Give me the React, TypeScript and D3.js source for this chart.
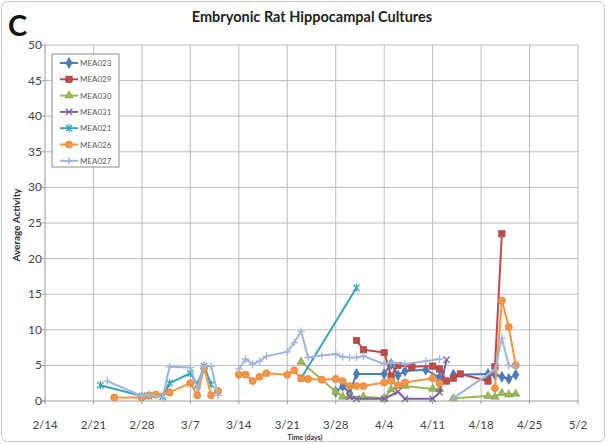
import React from 'react';
import * as d3 from 'd3';

const W = 611;
const H = 444;

const xTickLabels = ['2/14', '2/21', '2/28', '3/7', '3/14', '3/21', '3/28', '4/4', '4/11', '4/18', '4/25', '5/2'];
const yTicks = [0, 5, 10, 15, 20, 25, 30, 35, 40, 45, 50];

const seriesNames = ['MEA023', 'MEA029', 'MEA030', 'MEA031', 'MEA021', 'MEA026', 'MEA027'];
const seriesColors = ['#4a7ebb', '#be4b48', '#98b954', '#7d60a0', '#3aa3b8', '#f69546', '#9fb5dc'];
const seriesMarkers = ['diamond', 'square', 'triangle', 'x', 'star', 'circle', 'plus'];

const mea023Dates = ['3/28', '3/29', '3/30', '3/31', '4/4', '4/5', '4/6', '4/7', '4/10', '4/12', '4/13', '4/14', '4/19', '4/20', '4/21', '4/22', '4/23'];
const mea023Values = [1.3, 2.1, 1.1, 3.8, 3.8, 5.2, 3.6, 4.2, 4.4, 3.3, null, 3.7, 3.8, 3.7, 3.4, 3.1, 3.7];

const mea029Dates = ['3/31', '4/1', '4/4', '4/5', '4/6', '4/8', '4/11', '4/12', '4/13', '4/13', '4/14', '4/15', '4/19', '4/20', '4/21'];
const mea029Values = [8.5, 7.2, 6.8, 3.5, 5.0, 4.8, 4.9, 4.5, 2.8, null, 3.2, 3.8, 2.8, 4.8, 23.5];

const mea030Dates = ['3/23', '3/28', '3/29', '3/30', '4/1', '4/4', '4/5', '4/6', '4/7', '4/11', '4/12', '4/13', '4/14', '4/19', '4/20', '4/21', '4/22', '4/23'];
const mea030Values = [5.5, 1.3, 0.6, 0.6, 0.6, 0.4, 1.6, 2.1, 2.1, 1.7, 1.6, null, 0.4, 0.7, 0.6, 1.1, 0.9, 1.0];

const mea031Dates = ['3/30', '3/31', '4/4', '4/6', '4/7', '4/11', '4/12', '4/13'];
const mea031Values = [0.6, 0.3, 0.3, 1.3, 0.3, 0.3, 1.2, 5.8];

const mea021Dates = ['2/22', '2/28', '3/1', '3/3', '3/4', '3/7', '3/8', '3/9', '3/10', '3/12', '3/23', '3/31'];
const mea021Values = [2.2, 0.7, 0.7, 0.6, 2.5, 3.9, 2.3, 4.9, 2.3, null, 3.2, 15.9];

const mea026Dates = ['2/24', '2/28', '3/1', '3/2', '3/4', '3/7', '3/8', '3/9', '3/10', '3/11', '3/12', '3/14', '3/15', '3/16', '3/17', '3/18', '3/21', '3/22', '3/23', '3/24', '3/26', '3/28', '3/29', '3/30', '3/31', '4/1', '4/4', '4/5', '4/6', '4/7', '4/11', '4/12', '4/13', '4/20', '4/21', '4/22', '4/23'];
const mea026Values = [0.5, 0.5, 0.8, 0.9, 1.2, 2.5, 0.8, 4.6, 0.8, 1.4, null, 3.7, 3.7, 2.8, 3.4, 3.9, 3.7, 4.3, 3.2, 3.1, 3.0, 3.1, 2.8, 2.1, 2.1, 2.1, 2.6, 2.8, 2.2, 2.6, 3.2, 2.5, null, 1.8, 14.1, 10.4, 5.0];

const mea027Dates = ['2/23', '2/28', '3/1', '3/3', '3/4', '3/7', '3/8', '3/9', '3/10', '3/11', '3/12', '3/14', '3/15', '3/16', '3/17', '3/18', '3/21', '3/22', '3/23', '3/24', '3/26', '3/28', '3/29', '3/30', '3/31', '4/1', '4/4', '4/5', '4/7', '4/10', '4/12', '4/13', '4/14', '4/20', '4/21', '4/22', '4/23'];
const mea027Values = [2.8, 0.7, 0.9, 0.5, 4.8, 4.7, 1.8, 4.9, 4.9, 0.8, null, 4.5, 5.9, 5.2, 5.6, 6.3, 6.9, 8.2, 9.8, 6.1, 6.4, 6.6, 6.2, 6.1, 6.1, 6.3, 5.2, 5.4, 5.2, 5.6, 5.9, null, 0.4, 4.4, 8.8, 5.0, 4.8];

const seriesDates = [mea023Dates, mea029Dates, mea030Dates, mea031Dates, mea021Dates, mea026Dates, mea027Dates];
const seriesValues = [mea023Values, mea029Values, mea030Values, mea031Values, mea021Values, mea026Values, mea027Values];

const parseDate = (s: string) => {
  const [m, d] = s.split('/').map(Number);
  return new Date(2009, m - 1, d);
};

const FONT = 'Lato, "Open Sans", sans-serif';

function Marker({ type, x, y, color }: { type: string; x: number; y: number; color: string }) {
  const dark = d3.color(color)!.darker(0.4).toString();
  if (type === 'diamond') {
    return <path d={d3.symbol(d3.symbolDiamond, 34)()!} transform={`translate(${x},${y})`} fill={color} stroke={dark} strokeWidth={0.6} />;
  }
  if (type === 'square') {
    return <rect x={x - 3.2} y={y - 3.2} width={6.4} height={6.4} fill={color} stroke={dark} strokeWidth={0.6} />;
  }
  if (type === 'triangle') {
    return <path d={d3.symbol(d3.symbolTriangle, 30)()!} transform={`translate(${x},${y})`} fill={color} stroke={dark} strokeWidth={0.6} />;
  }
  if (type === 'circle') {
    return <circle cx={x} cy={y} r={3.6} fill={color} stroke={dark} strokeWidth={0.6} />;
  }
  const r = 3.2;
  const segs: string[] = [];
  if (type === 'x' || type === 'star') {
    segs.push(`M${x - r},${y - r}L${x + r},${y + r}`, `M${x - r},${y + r}L${x + r},${y - r}`);
  }
  if (type === 'star') {
    segs.push(`M${x},${y - r - 0.8}L${x},${y + r + 0.8}`);
  }
  if (type === 'plus') {
    segs.push(`M${x - r - 0.6},${y}L${x + r + 0.6},${y}`, `M${x},${y - r - 0.6}L${x},${y + r + 0.6}`);
  }
  return <path d={segs.join('')} stroke={color} strokeWidth={1.3} fill="none" />;
}

export default function App() {
  const x = d3.scaleTime().domain([parseDate('2/14'), parseDate('5/2')]).range([45, 578]);
  const y = d3.scaleLinear().domain([0, 50]).range([401, 45]);

  const tickDates = xTickLabels.map(parseDate);

  type P = { d: Date; v: number | null };
  const line = d3
    .line<P>()
    .defined((p) => p.v != null)
    .x((p) => x(p.d))
    .y((p) => y(p.v as number));

  const series = seriesNames.map((name, i) => ({
    name,
    color: seriesColors[i],
    marker: seriesMarkers[i],
    points: seriesDates[i].map((s, j) => ({ d: parseDate(s), v: seriesValues[i][j] })) as P[],
  }));

  const legendX = 52;
  const legendY = 54;
  const legendRow = 16.3;

  return (
    <div style={{ position: 'absolute', left: 0, top: 0 }}>
      <svg width={W} height={H} style={{ display: 'block', background: '#fff' }}>
        <rect x={1.5} y={1.5} width={603} height={440} rx={6} fill="#fff" stroke="#c8c8c8" strokeWidth={1} />
        <text x={8} y={36} fontFamily={FONT} fontWeight="bold" fontSize={29} fill="#111">C</text>
        <text x={312} y={22} textAnchor="middle" fontFamily={FONT} fontWeight="bold" fontSize={14.5} fill="#222">
          Embryonic Rat Hippocampal Cultures
        </text>

        {/* gridlines */}
        {yTicks.filter((t) => t > 0).map((t) => (
          <line key={'gy' + t} x1={45} x2={578} y1={y(t)} y2={y(t)} stroke="#bdbdbd" strokeWidth={1} />
        ))}
        {tickDates.slice(1).map((d, i) => (
          <line key={'gx' + i} x1={x(d)} x2={x(d)} y1={45} y2={401} stroke="#bdbdbd" strokeWidth={1} />
        ))}
        {/* axes */}
        <line x1={45} x2={45} y1={45} y2={401} stroke="#9a9a9a" strokeWidth={1} />
        <line x1={42} x2={578} y1={401} y2={401} stroke="#9a9a9a" strokeWidth={1} />
        {yTicks.map((t) => (
          <g key={'yt' + t}>
            <line x1={42} x2={45} y1={y(t)} y2={y(t)} stroke="#9a9a9a" />
            <text x={42} y={y(t) + 4} textAnchor="end" fontFamily={FONT} fontSize={12} fill="#444">{t}</text>
          </g>
        ))}
        {tickDates.map((d, i) => (
          <g key={'xt' + i}>
            <line x1={x(d)} x2={x(d)} y1={401} y2={404} stroke="#9a9a9a" />
            <text x={x(d)} y={429} textAnchor="middle" fontFamily={FONT} fontSize={11.5} fill="#444">{xTickLabels[i]}</text>
          </g>
        ))}
        <text x={305} y={440} textAnchor="middle" fontFamily={FONT} fontWeight="bold" fontSize={7} fill="#333">Time (days)</text>
        <text transform="translate(20,225) rotate(-90)" textAnchor="middle" fontFamily={FONT} fontWeight="bold" fontSize={10} fill="#333">
          Average Activity
        </text>

        {/* series */}
        {series.map((s) => (
          <g key={s.name}>
            <path d={line(s.points)!} fill="none" stroke={s.color} strokeWidth={2} strokeLinejoin="round" />
            {s.points.filter((p) => p.v != null).map((p, j) => (
              <Marker key={j} type={s.marker} x={x(p.d)} y={y(p.v as number)} color={s.color} />
            ))}
          </g>
        ))}

        {/* legend */}
        <rect x={legendX} y={legendY} width={67} height={113} fill="#fff" stroke="#8c8c8c" strokeWidth={1} />
        {series.map((s, i) => {
          const ly = legendY + 9 + i * legendRow;
          return (
            <g key={'lg' + s.name}>
              <line x1={legendX + 8} x2={legendX + 26} y1={ly} y2={ly} stroke={s.color} strokeWidth={2} />
              <Marker type={s.marker} x={legendX + 17} y={ly} color={s.color} />
              <text x={legendX + 28} y={ly + 3} fontFamily={FONT} fontSize={8} fill="#595959">{s.name}</text>
            </g>
          );
        })}
      </svg>
    </div>
  );
}
